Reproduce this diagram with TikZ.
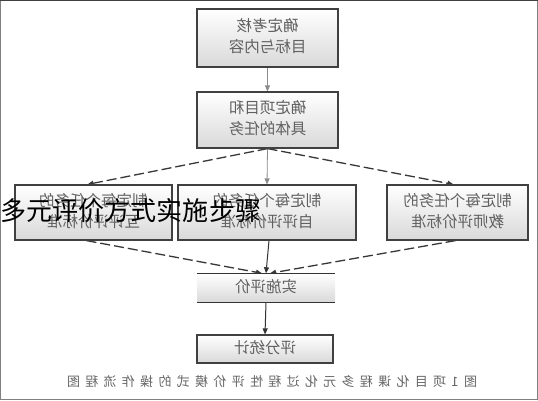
\documentclass[tikz,border=0pt]{standalone}
\usepackage{fontspec}
\usepackage{graphicx}
\newfontfamily\cjk{Noto Sans CJK SC}
\usetikzlibrary{arrows.meta,backgrounds}
\newcommand\mir[1]{\reflectbox{\begin{tabular}{@{}c@{}}#1\end{tabular}}}
\begin{document}
\begin{tikzpicture}[x=1pt,y=-1pt,
  boxst/.style={draw=black!75, line width=1.2pt, top color=white, bottom color=black!15,
    inner sep=0pt, text=black!62, font=\cjk\fontsize{15.5}{21}\selectfont},
  plainbox/.style={top color=white, bottom color=black!15,
    inner sep=0pt, text=black!62, font=\cjk\fontsize{15.5}{21}\selectfont},
  tip/.style={-{Triangle[length=6pt,width=5pt]}},
  dsh/.style={draw=black!78, line width=1.3pt, dash pattern=on 10pt off 4pt, tip},
  thin/.style={draw=black!45, line width=0.8pt, tip},
  solid/.style={draw=black!80, line width=1pt, tip}]
\useasboundingbox (0,0) rectangle (538,400);
% nodes
\node[boxst, minimum width=141pt, minimum height=58pt] (t1) at (267.5,38) {\mir{确定考核\\目标与内容}};
\node[boxst, minimum width=141pt, minimum height=56pt] (t2) at (267.5,120) {\mir{确定项目和\\具体的任务}};
\node[boxst, minimum width=157pt, minimum height=55pt] (L) at (93.5,212.5) {\mir{制定每个任务的\\互评评价标准}};
\node[boxst, minimum width=178pt, minimum height=55pt] (M) at (267,212.5) {\mir{制定每个任务的\\自评评价标准}};
\node[boxst, minimum width=141pt, minimum height=55pt] (R) at (457.5,212.5) {\mir{制定每个任务的\\教师评价标准}};
\node[plainbox, minimum width=138pt, minimum height=29pt] (S) at (266,288) {\mir{实施评价}};
\node[boxst, minimum width=136pt, minimum height=28pt] (P) at (265,349) {\mir{评分统计}};
\draw[black!80, line width=1.2pt] (S.north west) -- (S.north east) (S.south west) -- (S.south east);
\node[text=black!60, font=\cjk\fontsize{13}{13}\selectfont] (cap) at (272,382)
  {\reflectbox{\makebox[410pt][s]{图 1 项 目 化 课 程 多 元 化 过 程 性 评 价 模 式 的 操 作 流 程 图}}};
\node[text=black, font=\cjk\fontsize{26}{26}\selectfont] (title) at (131,211) {多元评价方式实施步骤};
\begin{scope}[on background layer]
\draw[fill=white, draw=black!50, line width=1pt] (0.5,0.5) rectangle (537.5,399.5);
\draw[black!75, line width=1.2pt] (0,0.6) -- (538,0.6);
\draw[thin] (t1.south) -- (t2.north);
\draw[dsh] (t2.south) -- ([xshift=-6pt]L.north);
\draw[thin] (t2.south) -- (M.north);
\draw[dsh] (t2.south) -- ([xshift=-4pt]R.north);
\draw[dsh] ([xshift=-7pt]L.south) -- ([xshift=-4pt]S.north);
\draw[solid] ([xshift=2pt]M.south) -- (S.north);
\draw[dsh] ([xshift=-2pt]R.south) -- ([xshift=4pt]S.north);
\draw[solid] (S.south) -- (P.north);
\end{scope}
\end{tikzpicture}
\end{document}
